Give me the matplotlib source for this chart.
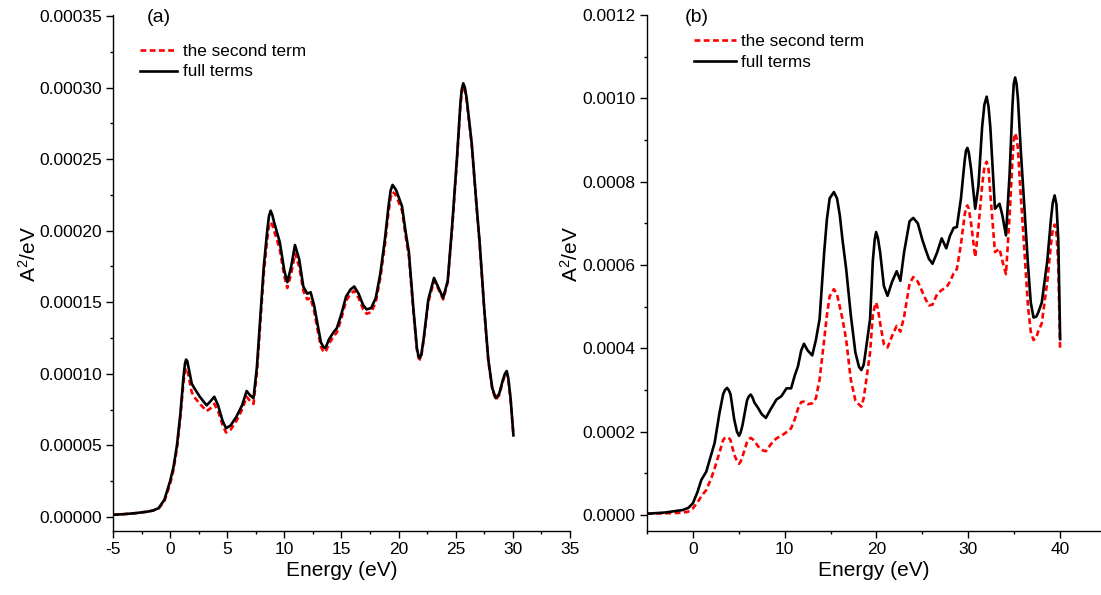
import numpy as np
import matplotlib
matplotlib.use("Agg")
import matplotlib.pyplot as plt
from matplotlib.ticker import MultipleLocator, FormatStrFormatter

plt.rcParams["font.family"] = ["Liberation Sans", "DejaVu Sans"]
plt.rcParams["mathtext.fontset"] = "custom"
plt.rcParams["mathtext.rm"] = "Liberation Sans"
plt.rcParams["mathtext.default"] = "regular"

# panel (a): energy grid (eV) and spectra (units of 1e-5 A^2/eV)
energy_a = [-5, -4, -3, -2, -1.5, -1, -0.5, 0, 0.3, 0.6, 0.9, 1.15, 1.3, 1.4, 1.5,
            1.65, 1.9, 2.2, 2.6, 3.2, 3.55, 3.87, 4.2, 4.6, 4.9, 5.3, 5.8, 6.3, 6.7,
            7.0, 7.3, 7.6, 7.9, 8.2, 8.5, 8.65, 8.8, 8.95, 9.1, 9.6, 10.0, 10.26,
            10.6, 10.93, 11.3, 11.66, 12.0, 12.3, 12.6, 12.9, 13.2, 13.4, 13.56,
            13.7, 13.9, 14.3, 14.6, 15.0, 15.4, 15.8, 16.12, 16.5, 16.9, 17.2, 17.6,
            18.0, 18.4, 18.8, 19.1, 19.3, 19.47, 19.65, 19.8, 20.3, 20.6, 20.9, 21.3,
            21.6, 21.75, 21.87, 22.0, 22.2, 22.6, 23.1, 23.5, 23.9, 24.3, 24.7, 25.1,
            25.4, 25.53, 25.66, 25.8, 25.95, 26.4, 26.8, 27.1, 27.5, 27.85, 28.2,
            28.5, 28.8, 29.1, 29.3, 29.46, 29.6, 29.8, 30.05]
full_a = [0.15, 0.2, 0.27, 0.37, 0.45, 0.62, 1.2, 2.5, 3.5, 5.0, 7.2, 9.6, 10.7, 11.0,
          10.9, 10.3, 9.3, 8.9, 8.4, 7.8, 8.1, 8.4, 7.8, 6.7, 6.2, 6.4, 7.0, 7.8, 8.8,
          8.5, 8.3, 10.5, 14.0, 17.5, 20.0, 21.0, 21.4, 21.1, 20.6, 19.2, 17.2, 16.4,
          17.5, 19.0, 18.0, 16.1, 15.6, 15.7, 14.8, 13.5, 12.2, 11.9, 11.8,
          12.0, 12.4, 12.9, 13.2, 14.2, 15.4, 15.9, 16.1, 15.6, 14.8, 14.5, 14.6,
          15.3, 17.0, 19.4, 21.6, 22.8, 23.2, 23.0, 22.8, 21.7, 20.0, 18.5, 14.5,
          11.8, 11.2, 11.1, 11.4, 12.5, 15.2, 16.7, 16.0, 15.3, 16.5, 20.5, 25.0,
          28.8, 29.9, 30.3, 30.0, 29.3, 26.1, 22.0, 19.1, 14.5, 11.0, 9.0,
          8.3, 8.6, 9.5, 10.0, 10.2, 9.7, 8.3, 5.7]
second_a = [0.15, 0.2, 0.27, 0.37, 0.45, 0.6, 1.1, 2.3, 3.3, 4.8, 7.0, 9.2, 10.2, 10.4,
            10.3, 9.7, 8.7, 8.3, 7.9, 7.4, 7.6, 7.9, 7.4, 6.4, 5.9, 6.1, 6.7, 7.5, 8.4,
            8.1, 7.9, 10.1, 13.6, 17.0, 19.4, 20.3, 20.6, 20.4, 20.0, 18.7, 16.8, 16.0,
            17.0, 18.4, 17.5, 15.8, 15.2, 15.3, 14.4, 13.1, 11.9, 11.6, 11.5,
            11.7, 12.1, 12.6, 12.9, 13.9, 15.1, 15.6, 15.8, 15.3, 14.5, 14.2, 14.3,
            15.0, 16.7, 19.0, 21.2, 22.3, 22.7, 22.6, 22.4, 21.4, 19.7, 18.2, 14.3,
            11.7, 11.1, 11.0, 11.3, 12.4, 15.0, 16.5, 15.9, 15.2, 16.4, 20.3, 24.8,
            28.6, 29.7, 30.1, 29.8, 29.1, 26.0, 21.9, 19.0, 14.4, 10.9, 8.9,
            8.2, 8.5, 9.4, 9.9, 10.1, 9.6, 8.2, 5.7]

# panel (b): energy grid (eV) and spectra (units of 1e-4 A^2/eV)
energy_b = [-5, -3, -1.1, -0.5, 0, 0.5, 0.92, 1.46, 2.0, 2.37, 2.9, 3.3, 3.5, 3.72,
            3.9, 4.1, 4.5, 4.8, 5.03, 5.2, 5.4, 5.9, 6.1, 6.3, 6.5, 6.7, 7.1, 7.5,
            7.95, 8.5, 9.1, 9.64, 10.2, 10.7, 11.1, 11.45, 11.8, 12.1, 12.5, 13.0,
            13.4, 13.8, 14.3, 14.6, 14.9, 15.36, 15.7, 16.0, 16.3, 16.7, 17.2, 17.7,
            18.1, 18.35, 18.6, 18.8, 19.3, 19.6, 19.8, 19.96, 20.15, 20.4, 20.8,
            21.2, 21.7, 22.2, 22.6, 23.0, 23.6, 24.0, 24.5, 25.0, 25.3, 25.7, 26.1,
            26.6, 27.1, 27.6, 28.0, 28.4, 28.75, 29.2, 29.6, 29.75, 29.9, 30.05,
            30.3, 30.75, 31.1, 31.5, 31.75, 32.0, 32.2, 32.4, 32.9, 33.4, 33.7,
            34.1, 34.5, 34.8, 34.95, 35.1, 35.25, 35.4, 35.7, 36.0, 36.5, 36.8,
            37.1, 37.4, 37.6, 38.0, 38.6, 39.0, 39.2, 39.4, 39.6, 39.8, 40.0]
full_b = [0.03, 0.06, 0.12, 0.17, 0.28, 0.55, 0.84, 1.04, 1.45, 1.73, 2.45, 2.9, 3.0,
          3.05, 3.0, 2.9, 2.3, 2.0, 1.9, 1.98, 2.15, 2.75, 2.85, 2.89, 2.82, 2.7,
          2.57, 2.42, 2.33, 2.55, 2.77, 2.85, 3.04, 3.04, 3.35, 3.57, 3.95, 4.11,
          3.95, 3.83, 4.2, 4.7, 6.3, 7.1, 7.6, 7.75, 7.6, 7.2, 6.6, 5.9, 4.8, 3.9,
          3.55, 3.48, 3.6, 3.9, 4.7, 6.1, 6.6, 6.79, 6.65, 6.3, 5.5,
          5.26, 5.6, 5.85, 5.62, 6.3, 7.05, 7.13, 7.0, 6.6, 6.4, 6.15, 6.03,
          6.3, 6.64, 6.4, 6.7, 6.89, 6.91, 7.6, 8.5, 8.75, 8.81, 8.7,
          8.3, 7.35, 7.9, 9.3, 9.85, 10.04, 9.8, 9.3, 7.35, 7.47, 7.2,
          6.71, 8.2, 9.8, 10.35, 10.5, 10.35, 10.0, 8.8, 7.75, 6.0, 5.1,
          4.74, 4.76, 4.85, 5.1, 6.1, 7.1, 7.5, 7.67, 7.45, 6.6, 4.22]
second_b = [0.03, 0.04, 0.055, 0.08, 0.16, 0.3, 0.45, 0.6, 0.88, 1.12, 1.5, 1.8, 1.85,
            1.87, 1.85, 1.8, 1.45, 1.3, 1.23, 1.28, 1.4, 1.75, 1.82, 1.85, 1.82, 1.78,
            1.65, 1.56, 1.53, 1.7, 1.84, 1.9, 1.99, 2.08, 2.3, 2.55, 2.71, 2.72,
            2.66, 2.68, 2.8, 3.25, 4.2, 4.8, 5.25, 5.42, 5.3, 5.0, 4.7, 4.2, 3.25, 2.75,
            2.65, 2.6, 2.8, 3.1, 3.9, 4.8, 5.0, 5.1, 4.95, 4.6, 4.1,
            4.02, 4.3, 4.54, 4.4, 4.75, 5.55, 5.71, 5.6, 5.35, 5.2, 5.03, 5.05,
            5.3, 5.4, 5.46, 5.6, 5.8, 5.9, 6.5, 7.2, 7.38, 7.43, 7.35,
            7.0, 6.19, 6.9, 7.9, 8.35, 8.48, 8.3, 7.7, 6.31, 6.39, 6.1,
            5.78, 7.2, 8.5, 9.0, 9.16, 9.05, 8.8, 7.7, 6.71, 5.0, 4.4,
            4.2, 4.25, 4.4, 4.6, 5.6, 6.5, 6.85, 6.97, 6.75, 6.0, 3.94]

fig = plt.figure(figsize=(11.01, 5.95), dpi=100)
ax_a = fig.add_axes([0.1026, 0.10756, 0.4151, 0.86723])
ax_b = fig.add_axes([0.5876, 0.10756, 0.4124, 0.86723])

panels = [
    (ax_a, energy_a, np.array(full_a) * 1e-5, np.array(second_a) * 1e-5, "(a)", 0.1),
    (ax_b, energy_b, np.array(full_b) * 1e-4, np.array(second_b) * 1e-4, "(b)", 0.11),
]

for ax, e, full, second, tag, tag_x in panels:
    ax.plot(e, second, color="red", lw=1.9, dashes=(2.2, 1.3), label="the second term")
    ax.plot(e, full, color="black", lw=1.9, label="full terms")
    for side in ("top", "right"):
        ax.spines[side].set_visible(False)
    for side in ("left", "bottom"):
        ax.spines[side].set_linewidth(1.0)
    ax.tick_params(which="major", direction="out", length=5, width=1.0,
                   labelsize=12.5, pad=3)
    ax.tick_params(which="minor", direction="out", length=2.5, width=1.0)
    ax.set_xlabel("Energy (eV)", fontsize=15, labelpad=3)
    ax.set_ylabel("A$^2$/eV", fontsize=15)
    ax.text(tag_x, 1.012, tag, transform=ax.transAxes,
            fontsize=14, ha="center", va="top")

# panel (a) scales
ax_a.set_xlim(-5, 35)
ax_a.set_ylim(-0.0000098, 0.0003507)
ax_a.xaxis.set_major_locator(MultipleLocator(5))
ax_a.xaxis.set_minor_locator(MultipleLocator(2.5))
ax_a.yaxis.set_major_locator(MultipleLocator(0.00005))
ax_a.yaxis.set_minor_locator(MultipleLocator(0.000025))
ax_a.yaxis.set_major_formatter(FormatStrFormatter("%.5f"))
ax_a.xaxis.set_major_formatter(FormatStrFormatter("%g"))
ax_a.yaxis.set_label_coords(-0.16, 0.537)
ax_a.legend(loc="upper left", bbox_to_anchor=(0.044, 0.958), frameon=False,
            fontsize=12.3, handlelength=2.2, handletextpad=0.3, labelspacing=0.35,
            borderaxespad=0)

# panel (b) scales
ax_b.set_xlim(-5, 44.45)
ax_b.set_ylim(-0.0000384, 0.0012)
ax_b.xaxis.set_major_locator(MultipleLocator(10))
ax_b.xaxis.set_minor_locator(MultipleLocator(5))
ax_b.yaxis.set_major_locator(MultipleLocator(0.0002))
ax_b.yaxis.set_minor_locator(MultipleLocator(0.0001))
ax_b.yaxis.set_major_formatter(FormatStrFormatter("%.4f"))
ax_b.xaxis.set_major_formatter(FormatStrFormatter("%g"))
ax_b.yaxis.set_label_coords(-0.143, 0.537)
ax_b.legend(loc="upper left", bbox_to_anchor=(0.088, 0.977), frameon=False,
            fontsize=12.3, handlelength=2.5, handletextpad=0.25, labelspacing=0.35,
            borderaxespad=0)

fig.savefig("out.png", dpi=100)
